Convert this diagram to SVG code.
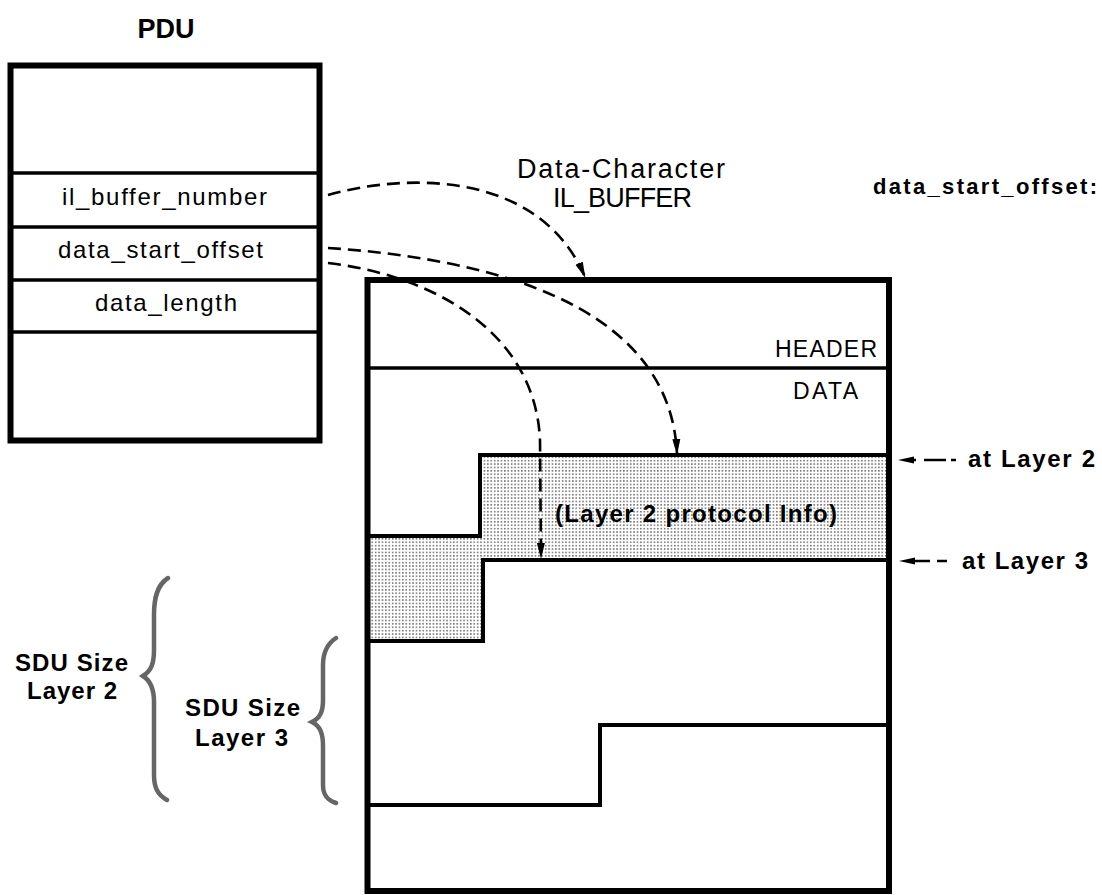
<svg xmlns="http://www.w3.org/2000/svg" width="1102" height="895" viewBox="0 0 1102 895">
  <defs>
    <pattern id="dots" x="0" y="0" width="3.4" height="3.4" patternUnits="userSpaceOnUse">
      <rect x="0" y="0" width="3.4" height="3.4" fill="#ffffff"/>
      <rect x="1" y="1" width="1.3" height="1.3" fill="#333333"/>
    </pattern>
    <marker id="ah" viewBox="0 0 16 10" refX="15" refY="5" markerWidth="16" markerHeight="10" markerUnits="userSpaceOnUse" orient="auto">
      <path d="M0,1 L16,5 L0,9 Z" fill="#000"/>
    </marker>
    <style>
      .t { font-family: "Liberation Sans", Arial, sans-serif; fill: #000; }
      .b { font-weight: bold; }
      .box { fill: none; stroke: #000; stroke-width: 6; }
      .row { fill: none; stroke: #000; stroke-width: 3.5; }
      .step { fill: none; stroke: #000; stroke-width: 4; }
      .dash { fill: none; stroke: #000; stroke-width: 2.6; stroke-dasharray: 13 7; }
      .brace { fill: none; stroke: #666666; stroke-width: 4.5; stroke-linecap: round; }
    </style>
  </defs>
  <rect width="1102" height="895" fill="#ffffff"/>

  <g id="pdu">
    <text class="t b" x="166" y="38" font-size="27" text-anchor="middle">PDU</text>
    <rect class="box" x="10.5" y="65.5" width="309" height="375" stroke-width="5"/>
    <line class="row" x1="10" y1="173" x2="320" y2="173"/>
    <line class="row" x1="10" y1="227" x2="320" y2="227"/>
    <line class="row" x1="10" y1="280" x2="320" y2="280"/>
    <line class="row" x1="10" y1="332" x2="320" y2="332"/>
    <text class="t" x="62" y="205" font-size="24" textLength="205" lengthAdjust="spacing">il_buffer_number</text>
    <text class="t" x="58" y="258" font-size="24" textLength="205" lengthAdjust="spacing">data_start_offset</text>
    <text class="t" x="95" y="311" font-size="24" textLength="142" lengthAdjust="spacing">data_length</text>
  </g>

  <g id="il_buffer">
    <text class="t" x="517" y="178" font-size="27" textLength="208" lengthAdjust="spacing">Data-Character</text>
    <text class="t" x="553" y="207" font-size="27" textLength="139" lengthAdjust="spacing">IL_BUFFER</text>
    <polygon points="367,536 480,536 480,455 889,455 889,560 483,560 483,641 367,641" fill="url(#dots)"/>
    <rect class="box" x="367.5" y="280" width="521.5" height="611"/>
    <line class="row" x1="367" y1="368" x2="889" y2="368"/>
    <text class="t" x="775" y="357" font-size="23" textLength="102" lengthAdjust="spacing">HEADER</text>
    <text class="t" x="793" y="399" font-size="23" textLength="65" lengthAdjust="spacing">DATA</text>
    <path class="step" d="M367,536 H480 V455 H889"/>
    <path class="step" d="M367,641 H483 V560 H889"/>
    <path class="step" d="M367,805 H600 V725 H889"/>
    <text class="t b" x="555" y="522" font-size="24" textLength="282" lengthAdjust="spacing">(Layer 2 protocol Info)</text>
  </g>

  <g id="offset_labels">
    <text class="t b" x="873" y="194" font-size="22" textLength="224" lengthAdjust="spacing">data_start_offset:</text>
    <polygon points="898,460 914,456.5 914,463.5" fill="#000"/>
    <line x1="913" y1="460" x2="916" y2="460" stroke="#000" stroke-width="2.5"/>
    <line x1="924" y1="460" x2="946" y2="460" stroke="#000" stroke-width="2.5"/>
    <line x1="951" y1="460" x2="956" y2="460" stroke="#000" stroke-width="2.5"/>
    <text class="t b" x="968" y="467" font-size="24" textLength="127" lengthAdjust="spacing">at Layer 2</text>
    <polygon points="899,561 915,557.5 915,564.5" fill="#000"/>
    <line x1="914" y1="561" x2="930" y2="561" stroke="#000" stroke-width="2.5"/>
    <line x1="937" y1="561" x2="947" y2="561" stroke="#000" stroke-width="2.5"/>
    <text class="t b" x="962" y="569" font-size="24" textLength="126" lengthAdjust="spacing">at Layer 3</text>
  </g>

  <g id="sdu_layer2">
    <path class="brace" d="M168,578 C157,585 154,598 154,615 L154,650 C154,664 151,671 143,676 C151,681 154,689 154,702 L154,775 C154,788 158,795 167,800"/>
    <text class="t b" x="15" y="671" font-size="24" textLength="113" lengthAdjust="spacing">SDU Size</text>
    <text class="t b" x="27" y="699" font-size="24" textLength="90" lengthAdjust="spacing">Layer 2</text>
  </g>

  <g id="sdu_layer3">
    <path class="brace" d="M336,638 C327,644 323,652 323,665 L323,700 C323,712 320,718 312,722 C320,726 323,733 323,746 L323,785 C323,795 327,800 336,803"/>
    <text class="t b" x="185" y="716" font-size="24" textLength="115" lengthAdjust="spacing">SDU Size</text>
    <text class="t b" x="195" y="746" font-size="24" textLength="93" lengthAdjust="spacing">Layer 3</text>
  </g>

  <g id="connectors">
    <path class="dash" d="M328,195 C410,172 540,172 585,277" marker-end="url(#ah)"/>
    <path class="dash" d="M328,248 C480,258 670,300 677,454" marker-end="url(#ah)"/>
    <path class="dash" d="M328,263 C430,275 535,330 540,440 L541,558" marker-end="url(#ah)"/>
  </g>
</svg>
